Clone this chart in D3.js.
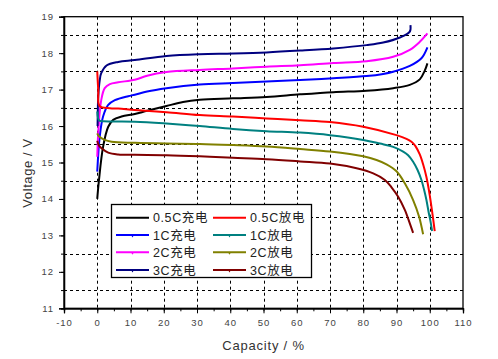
<!DOCTYPE html>
<html><head><meta charset="utf-8">
<script src="https://cdn.jsdelivr.net/npm/d3@7"></script>
<style>
body{margin:0;background:#fff;}
svg{display:block;}
text{font-family:"Liberation Sans",Arial,"Noto Sans CJK SC",sans-serif;}
</style></head>
<body>
<svg id="c" width="498" height="359"></svg>
<script>
// ---- data ----
const xTicks = [-10,0,10,20,30,40,50,60,70,80,90,100,110];
const yTicks = [11,12,13,14,15,16,17,18,19];
const seriesNames = ["0.5C充电","0.5C放电","1C充电","1C放电","2C充电","2C放电","3C充电","3C放电"];
const seriesColors = ["#000000","#ff0000","#0000ff","#008080","#ff00ff","#808000","#000080","#800000"];

const c05 = [[0,14.0],[0.5,14.5],[1.75,15.43],[3.3,15.98],[4.8,16.17],[7.3,16.26],[11.3,16.33],[15,16.42],[20.8,16.55],[25.8,16.66],[30.8,16.72],[40.8,16.76],[50.9,16.8],[61,16.87],[71,16.93],[81,16.97],[89,17.04],[94,17.13],[97,17.28],[98.5,17.52],[99.3,17.72]];
const d05 = [[0,17.5],[0.3,17.0],[0.7,16.55],[3.8,16.49],[6.3,16.48],[11.3,16.44],[20.8,16.38],[30.8,16.3],[40.8,16.26],[50.9,16.21],[61,16.16],[70,16.11],[80,15.98],[90,15.75],[93,15.65],[94.5,15.57],[95.7,15.45],[97,15.22],[98,14.95],[99,14.6],[100,14.1],[100.8,13.6],[101.5,13.12]];
const c1 = [[0,14.75],[0.75,15.71],[1.75,16.26],[3.3,16.58],[5.3,16.71],[9.3,16.82],[11.3,16.86],[15,16.95],[20.8,17.04],[30.8,17.14],[40.8,17.18],[50.9,17.22],[61,17.26],[71,17.31],[81,17.37],[86,17.43],[89,17.49],[94,17.65],[97.5,17.86],[99.3,18.16]];
const d1 = [[0,16.4],[0.6,16.15],[2,16.13],[11.3,16.12],[20.8,16.07],[30.8,16.0],[40.8,15.92],[50.9,15.86],[61,15.82],[70,15.75],[80,15.62],[85,15.52],[89,15.43],[92,15.3],[93.5,15.2],[95,15.02],[96.3,14.8],[97.5,14.52],[98.3,14.25],[99,13.97],[99.7,13.62],[100.2,13.4],[100.7,13.12]];
const c2 = [[0,15.16],[0.4,15.98],[1.2,16.71],[2.25,17.04],[3.8,17.15],[6.3,17.2],[11.3,17.27],[15,17.38],[20.8,17.48],[30.8,17.54],[40.8,17.58],[50.9,17.63],[61,17.67],[71,17.73],[81,17.78],[89,17.9],[94,18.09],[97,18.31],[99.3,18.54]];
const d2 = [[0,15.8],[0.5,15.72],[2.25,15.62],[4.3,15.57],[11.3,15.54],[20.8,15.52],[30.8,15.51],[40.8,15.48],[50.9,15.44],[61,15.37],[70,15.3],[80,15.17],[84,15.07],[87,14.95],[90,14.76],[92.5,14.43],[95,13.97],[96.8,13.51],[98,13.03]];
const c3 = [[0.1,16.0],[0.3,16.8],[0.75,17.26],[1.2,17.45],[2.8,17.66],[6.3,17.76],[11.3,17.81],[20.8,17.92],[30.8,17.97],[40.8,17.99],[50.9,18.02],[61,18.07],[71,18.13],[81,18.22],[86,18.29],[91,18.43],[94,18.59],[94.2,18.77]];
const d3s = [[0,15.6],[0.5,15.47],[1.3,15.39],[3.3,15.27],[6.3,15.22],[11.3,15.21],[20.8,15.2],[30.8,15.17],[40.8,15.13],[50.9,15.09],[61,15.03],[70,14.97],[78,14.84],[83,14.7],[86.5,14.52],[88.5,14.32],[90.5,14.06],[92.5,13.7],[94,13.33],[95,13.07]];
const seriesData = [c05,d05,c1,d1,c2,d2,c3,d3s];

// ---- layout ----
const L=64, R=463, T=16.7, B=308.3;
const svg = d3.select("#c");
const x = d3.scaleLinear().domain([-10,110]).range([L,R]);
const y = d3.scaleLinear().domain([11,19]).range([B,T]);

// grid
const g = svg.append("g").attr("stroke","#000").attr("stroke-width",1).attr("stroke-dasharray","3,3");
xTicks.filter(v=>v>-10&&v<110).forEach(v=>{
  g.append("line").attr("x1",Math.round(x(v))+0.5).attr("x2",Math.round(x(v))+0.5).attr("y1",T).attr("y2",B);
});
yTicks.slice(0,-1).forEach(v=>{
  const yy = Math.round(y(v+0.5))+0.5;
  g.append("line").attr("x1",L).attr("x2",R).attr("y1",yy).attr("y2",yy);
});

// curves
const line = d3.line().x(d=>x(d[0])).y(d=>y(d[1])).curve(d3.curveCatmullRom.alpha(0.5));
const order = [0,2,4,6,7,5,3,1];
order.forEach(i=>{
  svg.append("path").attr("d",line(seriesData[i])).attr("fill","none")
    .attr("stroke",seriesColors[i]).attr("stroke-width",2).attr("stroke-linejoin","round");
});

// frame
svg.append("rect").attr("x",L).attr("y",T).attr("width",R-L).attr("height",B-T)
  .attr("fill","none").attr("stroke","#000").attr("stroke-width",1.3);

// axes
const minorX = d3.range(-10,111,5);
const ax = svg.append("g").attr("transform",`translate(0,${B})`);
ax.call(d3.axisBottom(x).tickValues(minorX).tickSize(3).tickFormat(""));
const ax2 = svg.append("g").attr("transform",`translate(0,${B})`);
ax2.call(d3.axisBottom(x).tickValues(xTicks).tickSize(5).tickPadding(6).tickFormat(d=>String(d)));
const ay = svg.append("g").attr("transform",`translate(${L},0)`);
ay.call(d3.axisLeft(y).tickValues(d3.range(11,19.01,0.5)).tickSize(3).tickFormat(""));
const ay2 = svg.append("g").attr("transform",`translate(${L},0)`);
ay2.call(d3.axisLeft(y).tickValues(yTicks).tickSize(5).tickPadding(5).tickFormat(d=>String(d)));
svg.selectAll(".domain").attr("stroke","#000").attr("stroke-width",1.3);
svg.selectAll(".tick line").attr("stroke","#000");
svg.selectAll(".tick text").attr("font-size",9.5).attr("letter-spacing","1px").attr("fill","#444")
  .style("font-family",'"Liberation Sans",Arial,sans-serif');

// axis titles
svg.append("text").attr("x",263.5).attr("y",350).attr("text-anchor","middle")
  .attr("font-size",13).attr("letter-spacing","0.8px").attr("fill","#333").text("Capacity / %");
svg.append("text").attr("transform","translate(32,173) rotate(-90)").attr("text-anchor","middle")
  .attr("font-size",13).attr("letter-spacing","0.6px").attr("fill","#333").text("Voltage / V");

// legend
const lg = svg.append("g");
lg.append("rect").attr("x",111.5).attr("y",204.5).attr("width",200).attr("height",73)
  .attr("fill","#fff").attr("stroke","#000").attr("stroke-width",1.3);
const rowY = [217.7,235,252.3,270];
const colX = [116,213];
seriesNames.forEach((n,i)=>{
  const r = Math.floor(i/2), c = i%2;
  const yy = rowY[r];
  lg.append("line").attr("x1",colX[c]).attr("x2",colX[c]+33).attr("y1",yy).attr("y2",yy)
    .attr("stroke",seriesColors[i]).attr("stroke-width",2);
  if(r>0){
    const mx = colX[c]+16.5;
    lg.append("path").attr("d",`M${mx-1.5},${yy} L${mx+1.5},${yy} L${mx},${yy+2.5}Z`).attr("fill",seriesColors[i]);
  }
  lg.append("text").attr("x",colX[c]+37).attr("y",yy+4.5).attr("font-size",12.5)
    .attr("letter-spacing","0.6px").attr("fill","#222").text(n);
});
</script>
</body></html>
